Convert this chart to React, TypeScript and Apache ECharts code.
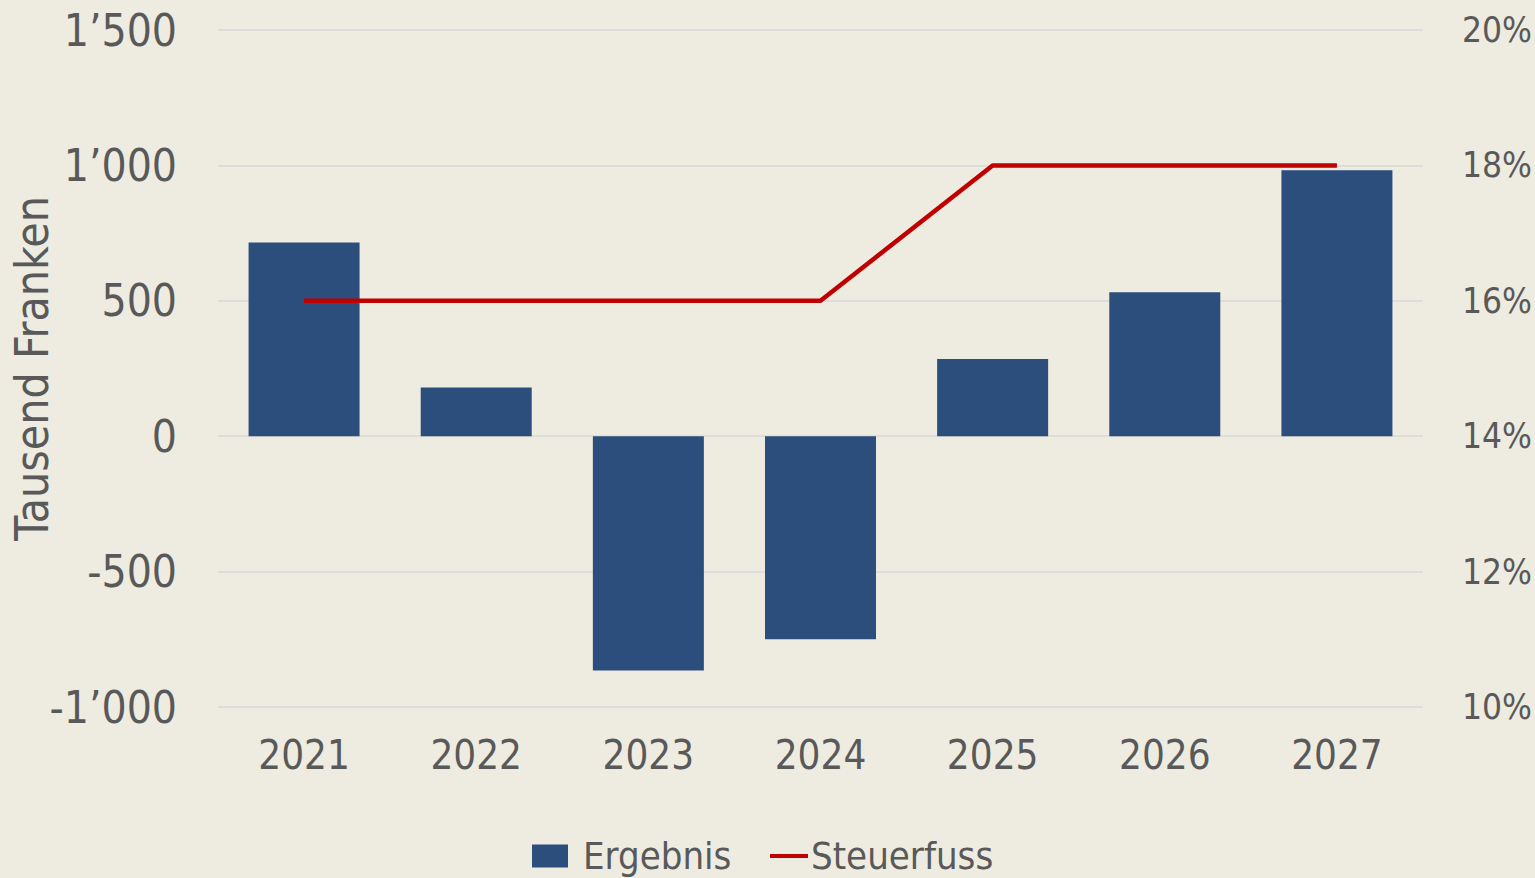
import React, { useEffect, useRef } from "react";
import * as echarts from "echarts";

const categories = ["2021", "2022", "2023", "2024", "2025", "2026", "2027"];
const ergebnis = [715, 180, -865, -750, 285, 532, 982];
const steuerfuss = [16, 16, 16, 16, 18, 18, 18];

const FONT = "'DejaVu Sans Condensed', 'DejaVu Sans', Verdana, sans-serif";
const TEXT = "#595959";

function fmtThousands(v: number): string {
  const s = Math.abs(v).toString().replace(/\B(?=(\d{3})+(?!\d))/g, "\u2019");
  return (v < 0 ? "-" : "") + s;
}

export default function App() {
  const ref = useRef<HTMLDivElement>(null);
  useEffect(() => {
    document.body.style.margin = "0";
    const chart = echarts.init(ref.current!, null, { renderer: "svg" });
    chart.setOption({
      animation: false,
      backgroundColor: "#EEEBE0",
      textStyle: { fontFamily: FONT },
      grid: {
        left: 218,
        right: 112,
        top: 30,
        bottom: 171,
        containLabel: false,
        outerBoundsMode: "none",
      },
      legend: [
        {
          data: [{ name: "Ergebnis", icon: "rect" }],
          left: 527,
          top: 832,
          itemWidth: 36,
          itemHeight: 23,
          textStyle: { fontSize: 38, color: TEXT, fontFamily: FONT, padding: [0, 0, 0, 10] },
        },
        {
          data: [{ name: "Steuerfuss", icon: "rect" }],
          left: 765,
          top: 832,
          itemWidth: 38,
          itemHeight: 4,
          textStyle: { fontSize: 38, color: TEXT, fontFamily: FONT, padding: [0, 0, 0, -2] },
        },
      ],
      xAxis: {
        type: "category",
        data: categories,
        axisLine: { show: false, onZero: false },
        axisTick: { show: false },
        axisLabel: { fontSize: 40, color: TEXT, fontFamily: FONT, margin: 28 },
      },
      yAxis: [
        {
          type: "value",
          min: -1000,
          max: 1500,
          interval: 500,
          name: "Tausend Franken",
          nameLocation: "middle",
          nameGap: 163,
          nameMoveOverlap: false,
          nameTextStyle: { fontSize: 46, color: TEXT, fontFamily: FONT },
          axisLine: { show: false },
          axisTick: { show: false },
          axisLabel: {
            fontSize: 44,
            color: TEXT,
            fontFamily: FONT,
            margin: 41,
            formatter: (v: number) => fmtThousands(v),
          },
          splitLine: { show: true, lineStyle: { color: "#D9D9D9", width: 1.5 } },
        },
        {
          type: "value",
          min: 10,
          max: 20,
          interval: 2,
          position: "right",
          axisLine: { show: false },
          axisTick: { show: false },
          axisLabel: {
            fontSize: 35,
            color: TEXT,
            fontFamily: FONT,
            margin: 39,
            formatter: (v: number) => v + "%",
          },
          splitLine: { show: false },
        },
      ],
      series: [
        {
          name: "Ergebnis",
          type: "bar",
          data: ergebnis,
          barWidth: 111,
          itemStyle: { color: "#2C4E7C" },
          yAxisIndex: 0,
        },
        {
          name: "Steuerfuss",
          type: "line",
          data: steuerfuss,
          yAxisIndex: 1,
          symbol: "none",
          lineStyle: { color: "#C00000", width: 4.5 },
          itemStyle: { color: "#C00000" },
        },
      ],
    });
    return () => chart.dispose();
  }, []);
  return (
    <div
      ref={ref}
      style={{ position: "absolute", left: 0, top: 0, width: 1535, height: 878 }}
    />
  );
}
